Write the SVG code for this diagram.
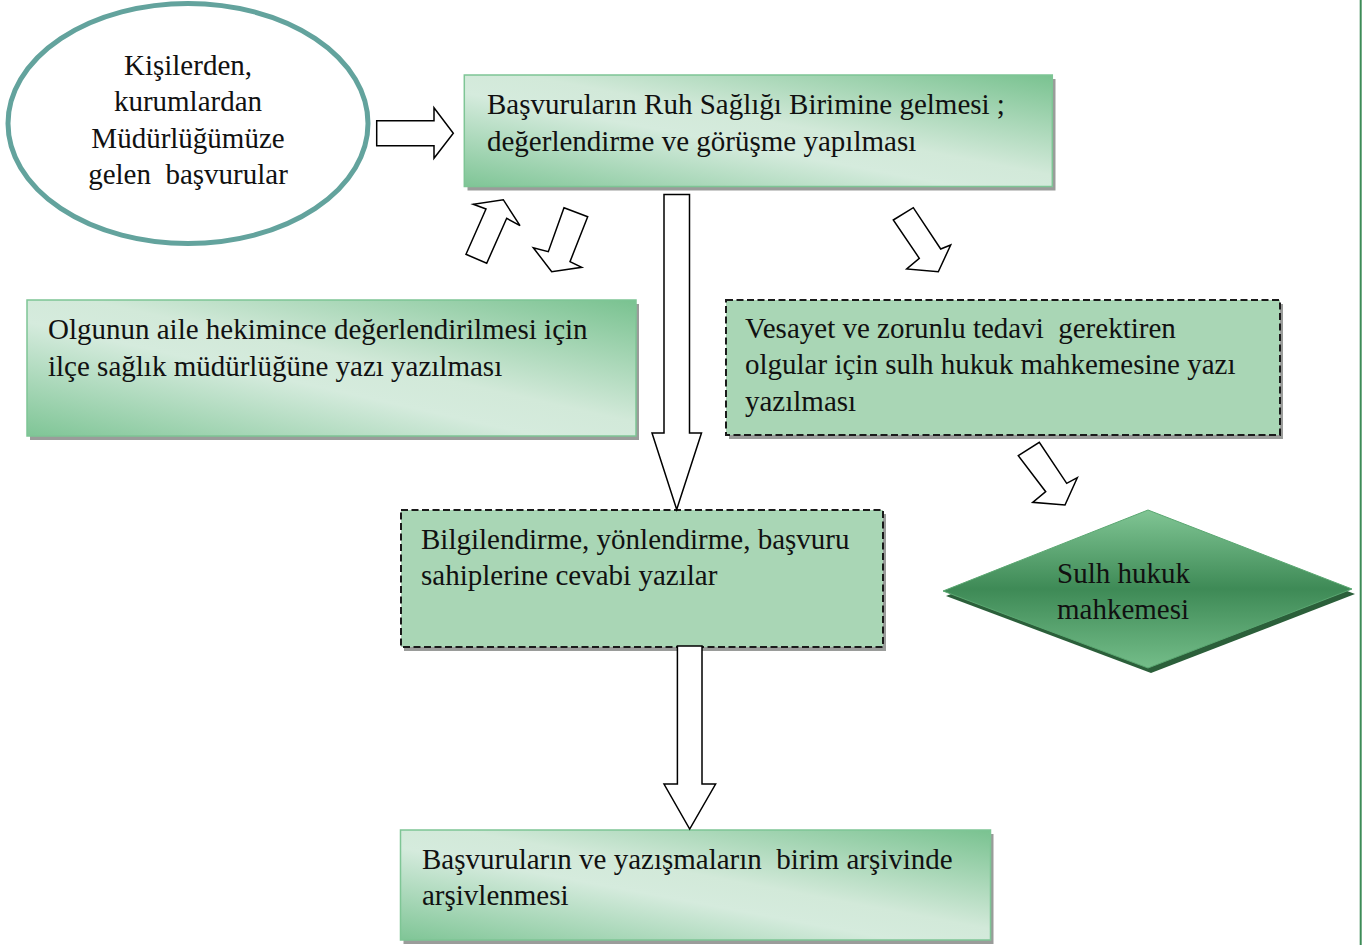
<svg xmlns="http://www.w3.org/2000/svg" width="1371" height="945" viewBox="0 0 1371 945">
<defs>
<linearGradient id="gBox" x1="1" y1="0" x2="0" y2="1">
<stop offset="0" stop-color="#79c290"/>
<stop offset="0.45" stop-color="#d2e9d9"/>
<stop offset="0.58" stop-color="#d5ebdd"/>
<stop offset="1" stop-color="#7fc596"/>
</linearGradient>
<linearGradient id="gDia" x1="0" y1="0" x2="0" y2="1">
<stop offset="0" stop-color="#80c594"/>
<stop offset="0.5" stop-color="#3e8a56"/>
<stop offset="1" stop-color="#74bd89"/>
</linearGradient>
</defs>
<style>
.t{font-family:"Liberation Serif","Times New Roman",serif;font-size:29px;fill:#111;}
.c{text-anchor:middle;}
.solid{fill:url(#gBox);stroke:#7ec595;stroke-width:1.5;}
.dash{fill:#a9d6b5;stroke:#1a1a1a;stroke-width:2;stroke-dasharray:7,3.5;}
.shadow{fill:#9a9c9a;}
.arrow{fill:#fff;stroke:#000;stroke-width:1.5;stroke-linejoin:miter;}
</style>
<rect width="1371" height="945" fill="#fff"/>
<line x1="1360.7" y1="0" x2="1360.7" y2="945" stroke="#3d8b57" stroke-width="2"/>

<g id="node-ellipse">
<ellipse cx="188" cy="123.5" rx="180" ry="120" fill="#fff" stroke="#63a39d" stroke-width="5"/>
<text class="t c" x="188" y="75">Kişilerden,</text>
<text class="t c" x="188" y="111.3">kurumlardan</text>
<text class="t c" x="188" y="147.6">Müdürlüğümüze</text>
<text class="t c" x="188" y="184" xml:space="preserve">gelen  başvurular</text>
</g>

<g id="node-basvuru">
<rect class="shadow" x="467.5" y="79" width="588" height="111.5"/>
<rect class="solid" x="464.3" y="75" width="588" height="111.5"/>
<text class="t" x="487" y="114">Başvuruların Ruh Sağlığı Birimine gelmesi ;</text>
<text class="t" x="487" y="150.5">değerlendirme ve görüşme yapılması</text>
</g>

<g id="node-olgunun">
<rect class="shadow" x="30" y="304" width="609" height="136"/>
<rect class="solid" x="27" y="300" width="609" height="136"/>
<text class="t" x="48" y="339">Olgunun aile hekimince değerlendirilmesi için</text>
<text class="t" x="48" y="375.5">ilçe sağlık müdürlüğüne yazı yazılması</text>
</g>

<g id="node-vesayet">
<rect class="shadow" x="729" y="304" width="554" height="135"/>
<rect class="dash" x="726" y="300" width="554" height="135"/>
<text class="t" x="745" y="337.5" xml:space="preserve">Vesayet ve zorunlu tedavi  gerektiren</text>
<text class="t" x="745" y="374">olgular için sulh hukuk mahkemesine yazı</text>
<text class="t" x="745" y="410.5">yazılması</text>
</g>

<g id="node-bilgilendirme">
<rect class="shadow" x="404" y="514" width="482" height="137"/>
<rect class="dash" x="401" y="510" width="482" height="137"/>
<text class="t" x="421" y="548.5">Bilgilendirme, yönlendirme, başvuru</text>
<text class="t" x="421" y="585">sahiplerine cevabi yazılar</text>
</g>

<g id="node-sulh">
<polygon points="1148,515 1355,594 1151,673 946,596" fill="#2b5f3a"/>
<polygon points="1148,510 1352,589 1148,668 943,591" fill="url(#gDia)" stroke="#5aa771" stroke-width="1"/>
<text class="t" x="1057" y="583">Sulh hukuk</text>
<text class="t" x="1057" y="619">mahkemesi</text>
</g>

<g id="node-arsiv">
<rect class="shadow" x="403.5" y="834" width="590" height="110"/>
<rect class="solid" x="400.5" y="830" width="590" height="110"/>
<text class="t" x="422" y="868.5" xml:space="preserve">Başvuruların ve yazışmaların  birim arşivinde</text>
<text class="t" x="422" y="905">arşivlenmesi</text>
</g>

<g id="connectors">
<polygon class="arrow" points="376.7,120.7 434,120.7 434,107.7 453.3,133.3 434,158.3 434,145.7 376.7,145.7"/>
<polygon class="arrow" points="466,254.3 486,209 473.3,204.3 503.3,199.7 520,225.7 506.7,218.3 486.7,263.3"/>
<polygon class="arrow" points="564,207.7 587.7,216.7 570,261.7 581.7,267.3 551.7,271.7 533.3,247.7 548.3,251.7"/>
<polygon class="arrow" points="664,194.5 689.5,194.5 689.5,433 701.5,433 676.7,509.5 652,433 664,433"/>
<polygon class="arrow" points="677.4,646 702,646 702,784 715.6,784 689.7,829 664,784 677.4,784"/>
<polygon class="arrow" points="893.3,220 913.3,207.7 940.7,249 950.7,245 938.3,271.7 906.7,269 919.3,258.3"/>
<polygon class="arrow" points="1018.3,455.7 1039.3,442.3 1066.7,483.3 1077.3,477.7 1065,505 1032.7,502.3 1045.7,491.7"/>
</g>
</svg>
